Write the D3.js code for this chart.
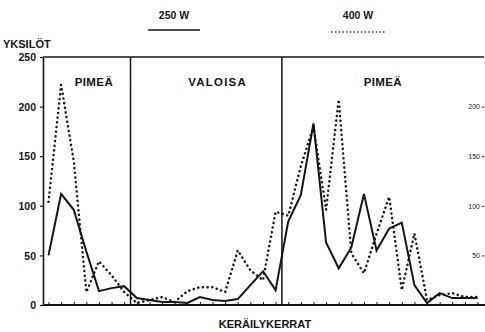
<!DOCTYPE html>
<html>
<head>
<meta charset="utf-8">
<script src="https://cdn.jsdelivr.net/npm/d3@7"></script>
<style>
  body { margin: 0; background: #fff; }
  svg { display: block; font-family: "Liberation Sans", Arial, sans-serif; font-weight: bold; }
</style>
</head>
<body>
<svg id="chart" width="485" height="332"></svg>
<script>
// keräilykerrat (collection rounds), one value per round
const rounds = d3.range(35)
const w250 = [50, 112, 96, 54, 14, 17, 19, 7, 5, 3, 3, 2, 8, 5, 4, 6, 20, 34, 15, 84,
              111, 183, 63, 37, 58, 112, 55, 77, 83, 20, 2, 12, 7, 7, 7]
const w400 = [104, 222, 145, 13, 44, 30, 13, 2, 5, 8, 3, 14, 18, 18, 13, 55, 35, 25, 94, 90,
              140, 180, 96, 207, 52, 32, 72, 109, 15, 72, 5, 10, 12, 8, 8]
const yTicks = [0, 50, 100, 150, 200, 250]
const yTicksRight = [50, 100, 150, 200]
const periodNames = ["PIMEÄ", "VALOISA", "PIMEÄ"]
const periodBreaks = [6.5, 18.5]
const seriesNames = ["250 W", "400 W"]

let chart = d3.select("#chart")
let ink = "#141414"

let x = d3.scaleLinear().domain([0, 34]).range([48.5, 477.5])
let y = d3.scaleLinear().domain([0, 250]).range([305, 57])
let left = 43, right = 485

// frame: top line, left axis, bottom axis
chart.append("line")
  .attr("x1", left).attr("x2", right - 1)
  .attr("y1", y(250)).attr("y2", y(250))
  .attr("stroke", ink).attr("stroke-width", 1.6)

let yAxis = chart.append("g")
  .attr("transform", `translate(${left},0)`)
  .call(d3.axisLeft(y).tickValues(yTicks).tickSize(3).tickPadding(4).tickSizeOuter(0))
yAxis.select(".domain").attr("stroke", ink).attr("stroke-width", 1.6)
yAxis.selectAll("line").attr("stroke", ink).attr("stroke-width", 1.2)
yAxis.selectAll("text")
  .attr("fill", ink).attr("font-size", 10.5).attr("font-family", null)
  .attr("dy", "0.35em")

let rAxis = chart.append("g")
  .attr("transform", `translate(${right - 1},0)`)
  .call(d3.axisLeft(y).tickValues(yTicksRight).tickSize(2).tickPadding(2).tickSizeOuter(0))
rAxis.select(".domain").remove()
rAxis.selectAll("line").attr("stroke", ink)
rAxis.selectAll("text")
  .attr("fill", ink).attr("font-size", 7).attr("font-weight", "normal").attr("font-family", null)

let xAxis = chart.append("g")
  .attr("transform", `translate(0,${y(0)})`)
  .call(d3.axisBottom(x).tickValues(rounds).tickSizeInner(-3).tickSizeOuter(0).tickFormat(""))
xAxis.select(".domain")
  .attr("d", `M${left},0H${right}`)
  .attr("stroke", ink).attr("stroke-width", 1.8)
xAxis.selectAll("line").attr("stroke", ink).attr("stroke-width", 1)

// period dividers and names
chart.selectAll(".divider")
  .data(periodBreaks)
  .enter().append("line")
  .attr("class", "divider")
  .attr("x1", d => x(d)).attr("x2", d => x(d))
  .attr("y1", y(250)).attr("y2", y(0))
  .attr("stroke", ink).attr("stroke-width", 1.5)

let periodLabelAt = [3.6, 13.4, 26.5]
chart.selectAll(".period")
  .data(periodNames)
  .enter().append("text")
  .attr("class", "period")
  .attr("x", (d, i) => x(periodLabelAt[i]))
  .attr("y", 86)
  .attr("text-anchor", "middle")
  .attr("font-size", 11.5)
  .attr("letter-spacing", (d, i) => i === 1 ? 1.2 : 0.4)
  .attr("fill", ink)
  .text(d => d)

// series
let line = d3.line().x((d, i) => x(rounds[i])).y(d => y(d))

chart.append("path")
  .datum(w400)
  .attr("d", line)
  .attr("fill", "none")
  .attr("stroke", ink)
  .attr("stroke-width", 2.5)
  .attr("stroke-linecap", "round")
  .attr("stroke-dasharray", "0.1 4.6")

chart.append("path")
  .datum(w250)
  .attr("d", line)
  .attr("fill", "none")
  .attr("stroke", ink)
  .attr("stroke-width", 2)
  .attr("stroke-linejoin", "miter")

// legend
let legend = chart.selectAll(".legend")
  .data(seriesNames)
  .enter().append("g")
  .attr("class", "legend")
  .attr("transform", (d, i) => `translate(${i === 0 ? 174 : 358},0)`)
legend.append("text")
  .attr("y", 19)
  .attr("text-anchor", "middle")
  .attr("font-size", 10.5)
  .attr("fill", ink)
  .text(d => d)
legend.append("line")
  .attr("x1", -26).attr("x2", 26)
  .attr("y1", (d, i) => i === 0 ? 30 : 32).attr("y2", (d, i) => i === 0 ? 30 : 32)
  .attr("stroke", ink)
  .attr("stroke-width", (d, i) => i === 0 ? 1.6 : 1.6)
  .attr("stroke-linecap", (d, i) => i === 0 ? "butt" : "round")
  .attr("stroke-dasharray", (d, i) => i === 0 ? null : "0.1 3.6")

// axis titles
chart.append("text")
  .attr("x", 3).attr("y", 48)
  .attr("font-size", 11)
  .attr("fill", ink)
  .text("YKSILÖT")

chart.append("text")
  .attr("x", 265).attr("y", 328)
  .attr("text-anchor", "middle")
  .attr("font-size", 11)
  .attr("fill", ink)
  .text("KERÄILYKERRAT")
</script>
</body>
</html>
